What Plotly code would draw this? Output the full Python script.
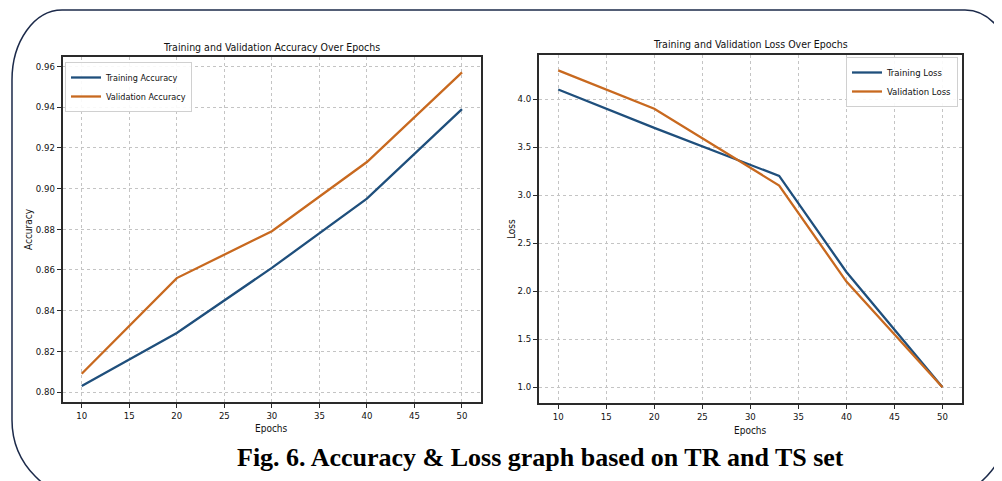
import plotly.graph_objects as go

# ---- data ----
acc_epochs = [10, 20, 30, 40, 50]
train_acc = [0.803, 0.829, 0.861, 0.895, 0.939]
val_acc = [0.809, 0.856, 0.879, 0.913, 0.957]

loss_epochs = [10, 20, 33, 40, 50]
train_loss = [4.1, 3.7, 3.2, 2.2, 1.0]
val_loss = [4.3, 3.9, 3.1, 2.1, 1.0]

acc_ticks = [0.80, 0.82, 0.84, 0.86, 0.88, 0.90, 0.92, 0.94, 0.96]
loss_ticks = [1.0, 1.5, 2.0, 2.5, 3.0, 3.5, 4.0]
epoch_ticks = [10, 15, 20, 25, 30, 35, 40, 45, 50]

# page body has an 8px margin; figure is sized so it fits the 1002x481 window
OFF = 8
W, H = 1002 - OFF, 481 - OFF
BLUE = "#1f4f7c"
ORANGE = "#c8691f"
FONT = "DejaVu Sans Condensed, Liberation Sans Narrow, DejaVu Sans, sans-serif"

def px(x):
    return (x - OFF) / W

def py(y):
    return 1 - (y - OFF) / H

fig = go.Figure()

fig.add_trace(go.Scatter(x=acc_epochs, y=train_acc, mode="lines", name="Training Accuracy",
                         line=dict(color=BLUE, width=2.3), xaxis="x", yaxis="y", legend="legend"))
fig.add_trace(go.Scatter(x=acc_epochs, y=val_acc, mode="lines", name="Validation Accuracy",
                         line=dict(color=ORANGE, width=2.3), xaxis="x", yaxis="y", legend="legend"))
fig.add_trace(go.Scatter(x=loss_epochs, y=train_loss, mode="lines", name="Training Loss",
                         line=dict(color=BLUE, width=2.3), xaxis="x2", yaxis="y2", legend="legend2"))
fig.add_trace(go.Scatter(x=loss_epochs, y=val_loss, mode="lines", name="Validation Loss",
                         line=dict(color=ORANGE, width=2.3), xaxis="x2", yaxis="y2", legend="legend2"))

axis_common = dict(
    showline=True, mirror=True, linecolor="#2a2a2a", linewidth=1.8,
    showgrid=True, gridcolor="#c4c4c4", griddash="dot", gridwidth=1,
    ticks="outside", ticklen=4, tickcolor="#2a2a2a",
    zeroline=False, tickfont=dict(family=FONT, size=9.5, color="#111"),
)

fig.update_layout(
    width=W, height=H,
    margin=dict(l=0, r=0, t=0, b=0),
    paper_bgcolor="white", plot_bgcolor="white",
    font=dict(family=FONT, color="#111"),
    xaxis=dict(domain=[px(62.7), px(481)], range=[8, 52], tickvals=epoch_ticks, anchor="y", **axis_common),
    yaxis=dict(domain=[py(401.7), py(56.7)], range=[0.7953, 0.9647], tickvals=acc_ticks,
               tickformat=".2f", anchor="x", **axis_common),
    xaxis2=dict(domain=[px(539), px(961.7)], range=[8, 52], tickvals=epoch_ticks, anchor="y2", **axis_common),
    yaxis2=dict(domain=[py(403), py(54.5)], range=[0.835, 4.465], tickvals=loss_ticks,
                tickformat=".1f", anchor="x2", **axis_common),
    legend=dict(x=px(65), y=py(62), xanchor="left", yanchor="top", bgcolor="rgba(255,255,255,0.9)",
                bordercolor="#d0d0d0", borderwidth=1, font=dict(family=FONT, size=9),
                itemwidth=30, tracegroupgap=0),
    legend2=dict(x=px(958), y=py(57), xanchor="right", yanchor="top", bgcolor="rgba(255,255,255,0.9)",
                 bordercolor="#d0d0d0", borderwidth=1, font=dict(family=FONT, size=9.5),
                 itemwidth=30, tracegroupgap=0),
    showlegend=True,
)

annotations = [
    dict(text="Training and Validation Accuracy Over Epochs", x=px(271), y=py(47), font=dict(size=10.5)),
    dict(text="Training and Validation Loss Over Epochs", x=px(750), y=py(44), font=dict(size=10.5)),
    dict(text="Epochs", x=px(271), y=py(428), font=dict(size=10)),
    dict(text="Epochs", x=px(750), y=py(430), font=dict(size=10)),
    dict(text="Accuracy", x=px(29), y=py(229), textangle=-90, font=dict(size=10)),
    dict(text="Loss", x=px(512), y=py(229), textangle=-90, font=dict(size=10)),
    dict(text="<b>Fig. 6. Accuracy &amp; Loss graph based on TR and TS set</b>", x=px(540), y=py(457),
         font=dict(family="Liberation Serif, Times New Roman, serif", size=26, color="#000")),
]
for a in annotations:
    a.update(xref="paper", yref="paper", showarrow=False, xanchor="center", yanchor="middle")
    fig.add_annotation(**a)

# rounded frame around the figure (pixel coords -> paper)
K = 0.5523
def rounded_path(x0, y0, x1, y1, tl, tr, br, bl):
    def P(x, y):
        return f"{px(x):.5f},{py(y):.5f}"
    (tlx, tly), (trx, try_), (brx, bry), (blx, bly) = tl, tr, br, bl
    d = f"M {P(x0 + tlx, y0)} L {P(x1 - trx, y0)} "
    d += f"C {P(x1 - trx + K*trx, y0)} {P(x1, y0 + try_ - K*try_)} {P(x1, y0 + try_)} "
    d += f"L {P(x1, y1 - bry)} "
    d += f"C {P(x1, y1 - bry + K*bry)} {P(x1 - brx + K*brx, y1)} {P(x1 - brx, y1)} "
    d += f"L {P(x0 + blx, y1)} "
    d += f"C {P(x0 + blx - K*blx, y1)} {P(x0, y1 - bly + K*bly)} {P(x0, y1 - bly)} "
    d += f"L {P(x0, y0 + tly)} "
    d += f"C {P(x0, y0 + tly - K*tly)} {P(x0 + tlx - K*tlx, y0)} {P(x0 + tlx, y0)} Z"
    return d

fig.add_shape(type="path", xref="paper", yref="paper",
              path=rounded_path(12, 10, 1015, 500, (50, 70), (50, 70), (80, 100), (80, 80)),
              line=dict(color="#1c2a4a", width=1.5), fillcolor="rgba(0,0,0,0)", layer="below")

fig.write_html("out.html")
